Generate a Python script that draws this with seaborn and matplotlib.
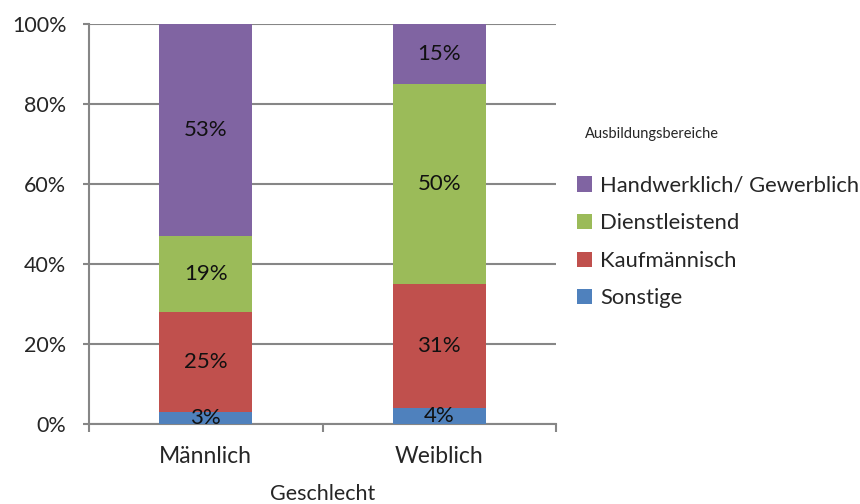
import numpy as np
import pandas as pd
import matplotlib
matplotlib.use("Agg")
import matplotlib.pyplot as plt
import seaborn as sns
from matplotlib.patches import Patch

categories = ["Männlich", "Weiblich"]
series_names = ["Sonstige", "Kaufmännisch", "Dienstleistend", "Handwerklich/ Gewerblich"]
sonstige = [3, 4]
kaufm = [25, 31]
dienst = [19, 50]
handwerk = [53, 15]
colors = ["#4F81BD", "#C0504D", "#9BBB59", "#8064A2"]
yticks = [0, 20, 40, 60, 80, 100]
ytick_labels = ["0%", "20%", "40%", "60%", "80%", "100%"]

sns.set_theme(style="white")
plt.rcParams["font.family"] = ["Lato", "DejaVu Sans"]

fig = plt.figure(figsize=(8.6, 5.04), dpi=100)
ax = fig.add_axes([89/860, 1-424/504, (556-89)/860, 400/504])

values = [sonstige, kaufm, dienst, handwerk]
cum = np.cumsum(np.array(values), axis=0)
for i in range(len(values) - 1, -1, -1):
    df = pd.DataFrame({"cat": categories, "val": cum[i]})
    sns.barplot(data=df, x="cat", y="val", color=colors[i], width=0.4,
                saturation=1, ax=ax, zorder=3, linewidth=0)

# labels
for i, vals in enumerate(values):
    for j, v in enumerate(vals):
        mid = cum[i][j] - v / 2
        ax.text(j, mid, f"{v}%", ha="center", va="center", fontsize=16,
                color="#111111", zorder=5)

ax.set_ylim(0, 100)
ax.set_xlim(-0.5, 1.5)
ax.set_yticks(yticks)
ax.set_yticklabels(ytick_labels, fontsize=15.5)
ax.yaxis.grid(True, color="#868686", linewidth=1.5, zorder=0)
ax.set_axisbelow(True)
for s in ["top", "right"]:
    ax.spines[s].set_visible(False)
for s in ["left", "bottom"]:
    ax.spines[s].set_color("#868686")
    ax.spines[s].set_linewidth(1.5)
ax.tick_params(axis="y", length=4.3, width=1.5, color="#868686", left=True, pad=12)
ax.set_xticks([0, 1])
ax.set_xticklabels(categories, fontsize=16.5)
ax.set_xticks([-0.5, 0.5, 1.5], minor=True)
ax.tick_params(axis="x", which="major", length=0, pad=16)
ax.tick_params(axis="x", which="minor", length=6, width=1.5, color="#868686", bottom=True)
ax.set_xlabel("Geschlecht", fontsize=15.5, labelpad=12)
ax.set_ylabel("")

handles = [Patch(facecolor=colors[i], edgecolor="none") for i in range(3, -1, -1)]
labels = [series_names[i] for i in range(3, -1, -1)]
leg = fig.legend(handles, labels, loc="upper left", bbox_to_anchor=(568/860, 1-167/504),
                 frameon=False, fontsize=15.8, handlelength=0.7, handleheight=0.7,
                 handletextpad=0.35, labelspacing=0.8, borderaxespad=0)
fig.text(585/860, 1-134/504, "Ausbildungsbereiche", fontsize=10.5, va="center", ha="left")

fig.savefig("out.png", dpi=100)
